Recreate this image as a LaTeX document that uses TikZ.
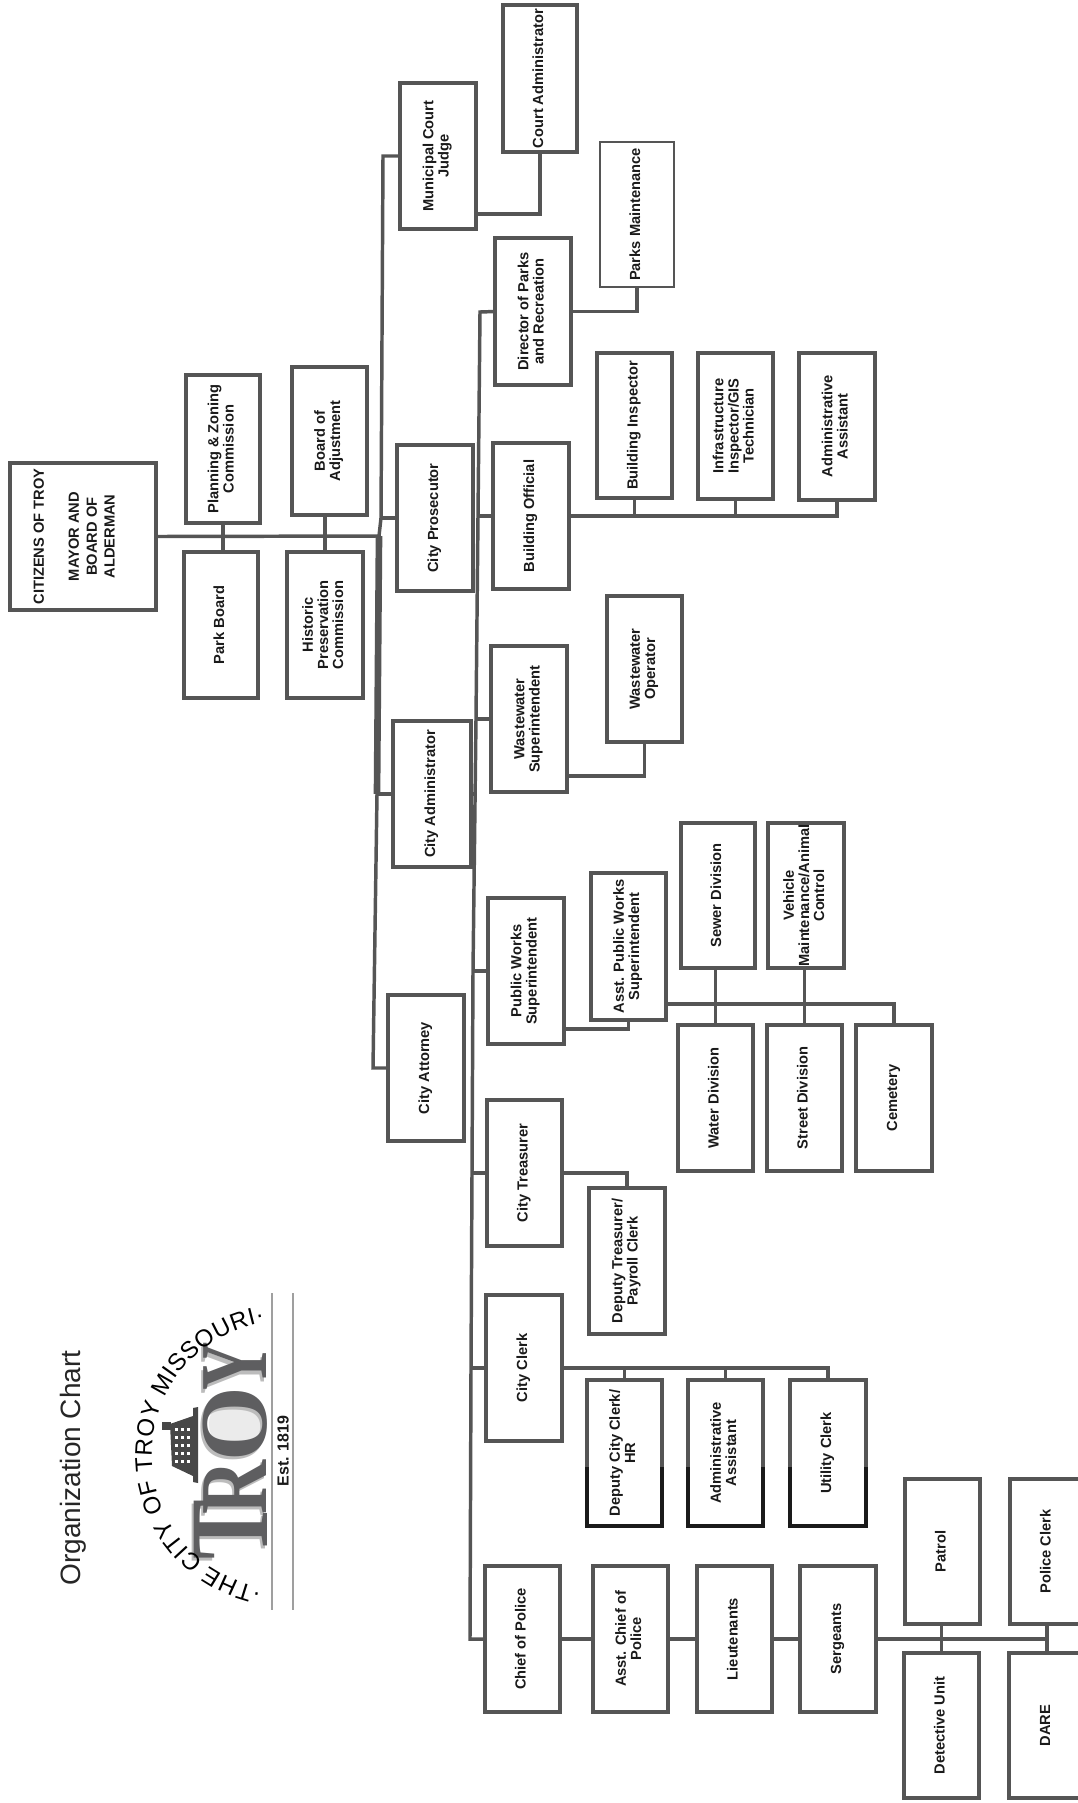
\documentclass[tikz,border=0pt]{standalone}
\usepackage{fontspec}
\setmainfont{Liberation Sans}
\newfontfamily\logoserif{Liberation Serif}
\usetikzlibrary{decorations.text}
\definecolor{linegray}{HTML}{555555}
\definecolor{inkdark}{HTML}{1A1A1A}
\definecolor{logogray}{HTML}{5E5E60}
\definecolor{logoshade}{HTML}{BCBCBC}
\tikzset{
  boxnode/.style={draw=linegray,line width=2.8pt,fill=white,inner sep=0pt,outer sep=0pt,text=inkdark,
    font=\fontsize{11}{11.4}\selectfont\bfseries},
  conn/.style={draw=linegray,line width=2.6pt,line cap=butt,line join=miter},
  thinbox/.style={line width=2pt},
  thicktrunk/.style={draw=linegray,line width=5pt},
  darkedge/.style={draw=inkdark,line width=3pt},
  logoletter/.style={inner sep=0pt,text=logogray,font=\logoserif\bfseries},
  logoshadow/.style={inner sep=0pt,text=logoshade,font=\logoserif\bfseries}
}
\newcommand\bx[7][]{%
  \node[boxnode,#1,minimum width={(#5-#3)*0.75pt},minimum height={(#6-#4)*0.75pt}] (#2)
    at ({(#3+#5)/2},{(#4+#6)/2}) {\rotatebox{90}{\begin{tabular}{@{}c@{}}#7\end{tabular}}};}
\begin{document}
\begin{tikzpicture}[x=0.75pt,y=-0.75pt]
\useasboundingbox (0,0) rectangle (1078,1803);
\clip (0,0) rectangle (1078,1803);
\fill[white] (0,0) rectangle (1078,1803);

% junction coordinates
\coordinate (t1) at (383,156);
\coordinate (t2) at (381,518);
\coordinate (t3) at (379,536);
\coordinate (t4) at (377,794);
\coordinate (t5) at (373,1068);
\coordinate (s1) at (480,312);
\coordinate (s2) at (478,516);
\coordinate (s3) at (476,719);
\coordinate (s4) at (473,971);
\coordinate (s5) at (472,1173);
\coordinate (s6) at (471,1368);
\coordinate (s7) at (470,1639);
\coordinate (jCourt) at (0,214);
\coordinate (jWW) at (0,776);
\coordinate (jPW) at (0,1029);
\coordinate (jAPW) at (0,1004);
\coordinate (jDark) at (0,1467);

% boxes
\bx[font=\fontsize{11}{13.4}\selectfont\bfseries]{citizens}{10}{463}{156}{610}{CITIZENS OF TROY\\[13pt]MAYOR AND\\BOARD OF\\ALDERMAN\\[11pt]}
\bx{planning}{186}{375}{260}{523}{Planning \& Zoning\\Commission}
\bx{parkboard}{184}{552}{258}{698}{Park Board}
\bx{boardadj}{292}{367}{367}{515}{Board of\\Adjustment}
\bx{historic}{287}{552}{363}{698}{Historic\\Preservation\\Commission}
\bx{mcj}{400}{83}{476}{229}{Municipal Court\\Judge}
\bx{court}{503}{5}{577}{152}{Court Administrator}
\bx{prosecutor}{397}{445}{473}{591}{City Prosecutor}
\bx{admin}{393}{721}{471}{867}{City Administrator}
\bx{attorney}{388}{995}{464}{1141}{City Attorney}
\bx{parksdir}{495}{238}{571}{385}{Director of Parks\\and Recreation}
\bx[thinbox]{parksmaint}{600}{142}{674}{287}{Parks Maintenance}
\bx{buildoff}{493}{443}{569}{589}{Building Official}
\bx{buildinsp}{597}{353}{672}{498}{Building Inspector}
\bx{infra}{698}{353}{773}{499}{Infrastructure\\Inspector/GIS\\Technician}
\bx{adminasst}{799}{353}{875}{500}{Administrative\\Assistant}
\bx{wwsup}{491}{646}{567}{792}{Wastewater\\Superintendent}
\bx{wwop}{607}{596}{682}{742}{Wastewater\\Operator}
\bx{pwsup}{488}{898}{564}{1044}{Public Works\\Superintendent}
\bx{apwsup}{591}{873}{666}{1020}{Asst. Public Works\\Superintendent}
\bx{sewer}{681}{823}{755}{968}{Sewer Division}
\bx{vehicle}{768}{823}{844}{968}{Vehicle\\\makebox[0pt]{Maintenance/Animal}\\Control}
\bx{water}{678}{1025}{753}{1171}{Water Division}
\bx{street}{767}{1025}{842}{1171}{Street Division}
\bx{cemetery}{856}{1025}{932}{1171}{Cemetery}
\bx{treasurer}{487}{1100}{562}{1246}{City Treasurer}
\bx{deptreas}{589}{1188}{665}{1334}{Deputy Treasurer/\\Payroll Clerk}
\bx{clerk}{486}{1295}{562}{1441}{City Clerk}
\bx{depclerk}{587}{1380}{662}{1526}{Deputy City Clerk/\\HR}
\bx{clerkasst}{688}{1380}{763}{1526}{Administrative\\Assistant}
\bx{utility}{790}{1380}{866}{1526}{Utility Clerk}
\bx{chief}{485}{1566}{560}{1712}{Chief of Police}
\bx{asstchief}{593}{1566}{668}{1712}{Asst. Chief of\\Police}
\bx{lieut}{697}{1566}{772}{1712}{Lieutenants}
\bx{serg}{800}{1566}{876}{1712}{Sergeants}
\bx{patrol}{905}{1479}{980}{1624}{Patrol}
\bx{detective}{904}{1653}{979}{1798}{Detective Unit}
\bx{policeclerk}{1010}{1479}{1085}{1624}{Police Clerk}
\bx{dare}{1009}{1653}{1085}{1798}{DARE}

% connectors: mayor and boards
\draw[conn] (citizens.east) -- (t3);
\draw[conn] (planning.south) -- (planning.south |- parkboard.north);
\draw[conn] (historic.north) -- (historic.north |- boardadj.south);
% first trunk
\draw[conn] (mcj.west) -- (t1) -- (t2) -- (t3) -- (t4) -- (t5) -- (attorney.west);
\draw[thicktrunk] (t3) -- (t4);
\draw[conn] (prosecutor.west) -- (t2);
\draw[conn] (admin.west) -- (t4);
\draw[conn] (mcj.east |- jCourt) -| (court.south);
% second trunk
\draw[conn] (parksdir.west) -- (s1) -- (s2) -- (s3) -- (s4) -- (s5) -- (s6) -- (s7) -- (chief.west);
\draw[conn] (buildoff.west) -- (s2);
\draw[conn] (wwsup.west) -- (s3);
\draw[conn] (pwsup.west) -- (s4);
\draw[conn] (treasurer.west) -- (s5);
\draw[conn] (clerk.west) -- (s6);
\draw[conn] (admin.east) -- (admin.east -| s3);
% departments
\draw[conn] (parksdir.east) -| (parksmaint.south);
\draw[conn] (buildoff.east) -| (adminasst.south);
\draw[conn] (buildinsp.south) -- (buildinsp.south |- buildoff.east);
\draw[conn] (infra.south) -- (infra.south |- buildoff.east);
\draw[conn] (wwsup.east |- jWW) -| (wwop.south);
\draw[conn] (pwsup.east |- jPW) -| (apwsup.south);
\draw[conn] (apwsup.east |- jAPW) -| (cemetery.north);
\draw[conn] (water.north) -- (water.north |- sewer.south);
\draw[conn] (street.north) -- (street.north |- vehicle.south);
\draw[conn] (treasurer.east) -| (deptreas.north);
\draw[conn] (clerk.east) -| (utility.north);
\draw[conn] (depclerk.north) -- (depclerk.north |- clerk.east);
\draw[conn] (clerkasst.north) -- (clerkasst.north |- clerk.east);
% police
\draw[conn] (chief.east) -- (asstchief.west);
\draw[conn] (asstchief.east) -- (lieut.west);
\draw[conn] (lieut.east) -- (serg.west);
\draw[conn] (serg.east) -- (serg.east -| dare.north);
\draw[conn] (detective.north) -- (detective.north |- patrol.south);
\draw[conn] (dare.north) -- (dare.north |- policeclerk.south);

% dark bottoms of the clerk boxes
\draw[darkedge] (depclerk.west |- jDark) -- (depclerk.south west) -- (depclerk.south east) -- (depclerk.east |- jDark);
\draw[darkedge] (clerkasst.west |- jDark) -- (clerkasst.south west) -- (clerkasst.south east) -- (clerkasst.east |- jDark);
\draw[darkedge] (utility.west |- jDark) -- (utility.south west) -- (utility.south east) -- (utility.east |- jDark);

% title
\node[rotate=90,inner sep=0pt,text=black!85,font=\fontsize{21}{24}\selectfont] (title) at (73,1468) {Organization Chart};

% logo
\draw[gray!75,line width=1.6pt] (272,1293) -- (272,1610);
\draw[gray!75,line width=1.2pt] (293,1293) -- (293,1610);
\node[rotate=90,inner sep=0pt,text=inkdark,font=\fontsize{12}{14}\selectfont\bfseries] (est) at (283,1451) {Est. 1819};

% logo lettering: a pale shadow, then the dark letters
\fill[black!8] (235,1424) circle[radius=26];
\node[rotate=90,logoshadow] (shT) at (229,1533) {\fontsize{84}{84}\selectfont\scalebox{0.8}[1]{T}};
\node[rotate=90,logoshadow] (shR) at (233,1490) {\fontsize{72}{72}\selectfont\scalebox{0.78}[1]{R}};
\node[rotate=90,logoshadow] (shO) at (233,1427) {\fontsize{72}{72}\selectfont O};
\node[rotate=90,logoshadow] (shY) at (233,1370) {\fontsize{72}{72}\selectfont\scalebox{0.7}[1]{Y}};
\node[rotate=90,logoletter] (lT) at (231,1530) {\fontsize{84}{84}\selectfont\scalebox{0.8}[1]{T}};
\node[rotate=90,logoletter] (lR) at (235,1487) {\fontsize{72}{72}\selectfont\scalebox{0.78}[1]{R}};
\node[rotate=90,logoletter] (lO) at (235,1424) {\fontsize{72}{72}\selectfont O};
\node[rotate=90,logoletter] (lY) at (235,1366) {\fontsize{72}{72}\selectfont\scalebox{0.7}[1]{Y}};

% ring of text
\path[decorate,decoration={text along path,text align=fit to path,
  text={|\fontsize{18}{18}\selectfont|·THE CITY OF TROY MISSOURI·}}]
  (262,1588) arc[start angle=100.6,end angle=260.7,radius=135];

% courthouse
\fill[black!72] (170,1424) -- (193,1416) -- (193,1408) -- (198,1407) -- (198,1483) -- (193,1482) -- (193,1476) -- (172,1466) -- cycle;
\fill[black!72] (162,1422) rectangle (171,1430);
\foreach \wx in {175,181,187} \foreach \wy in {1428,1436,1444,1452,1460}
  \fill[white] (\wx,\wy) rectangle ++(3,3);
\end{tikzpicture}
\end{document}
